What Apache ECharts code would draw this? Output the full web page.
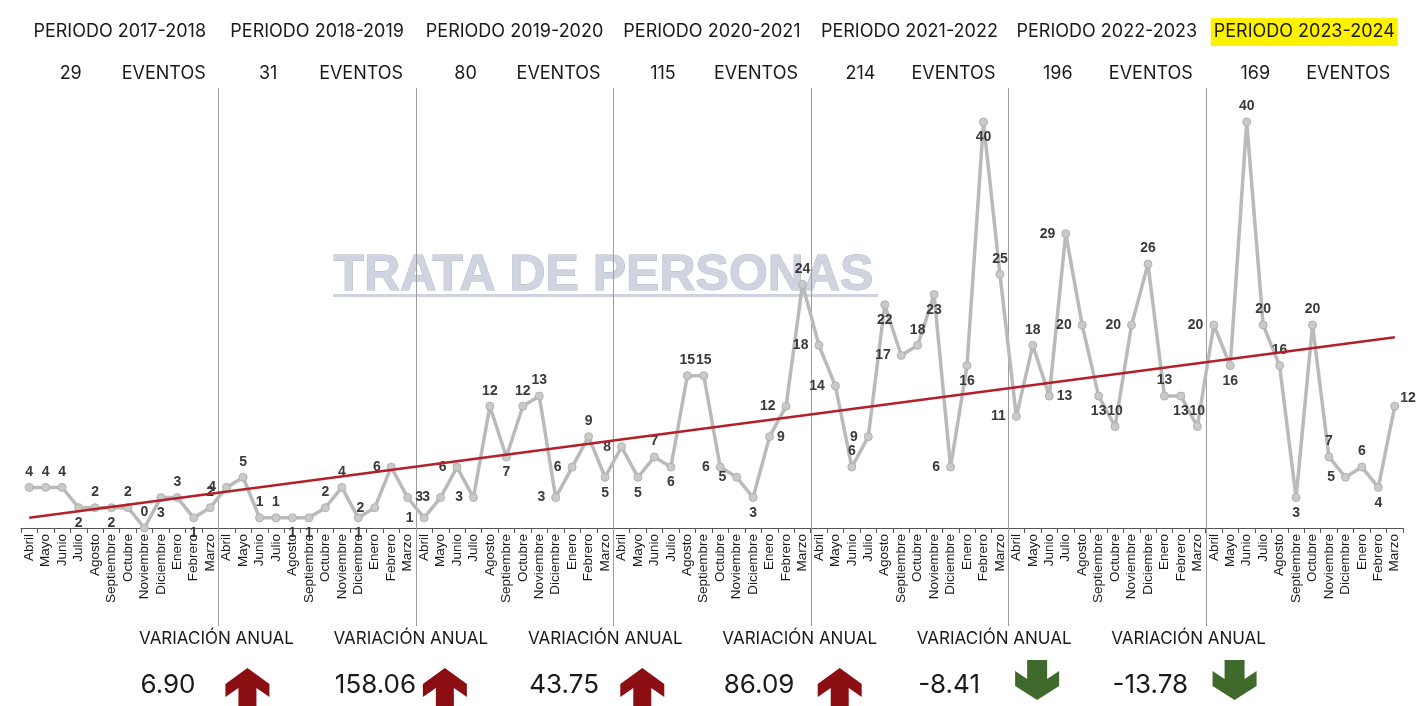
<!DOCTYPE html>
<html>
<head>
<meta charset="utf-8">
<script src="https://cdn.jsdelivr.net/npm/echarts@6/dist/echarts.min.js"></script>
<style>
html,body{margin:0;padding:0;background:#fff;}
#chart{width:1418px;height:706px;}
</style>
</head>
<body>
<div id="chart"></div>
<script>
const months = ['Abril','Mayo','Junio','Julio','Agosto','Septiembre','Octubre','Noviembre','Diciembre','Enero','Febrero','Marzo'];
const periods = ['PERIODO 2017-2018','PERIODO 2018-2019','PERIODO 2019-2020','PERIODO 2020-2021','PERIODO 2021-2022','PERIODO 2022-2023','PERIODO 2023-2024'];
const events = [29, 31, 80, 115, 214, 196, 169];
const variation = [6.90, 158.06, 43.75, 86.09, -8.41, -13.78];
const v2017 = [4,4,4,2,2,2,2,0,3,3,1,2];
const v2018 = [4,5,1,1,1,1,2,4,1,2,6,3];
const v2019 = [1,3,6,3,12,7,12,13,3,6,9,5];
const v2020 = [8,5,7,6,15,15,6,5,3,9,12,24];
const v2021 = [18,14,6,9,22,17,18,23,6,16,40,25];
const v2022 = [11,18,13,29,20,13,10,20,26,13,13,10];
const v2023 = [20,16,40,20,16,3,20,7,5,6,4,12];
const trendEnds = [1.0, 18.8];

// label placement (style only): t=top b=bottom l=left r=right
const labelPlace = [
 't','t','t','b','t','b','t','t','b','t','b','t',
 'l','t','t','t','b','b','t','t','b','l','l','r',
 'l','l','l','l','t','b','t','t','l','l','t','b',
 'l','b','t','b','t','t','l','l','b','r','l','t',
 'l','l','t','l','b','l','t','b','l','b','b','t',
 'l','t','r','l','l','b','t','l','t','t','b','t',
 'l','b','t','t','t','b','t','t','l','t','b','r'
];
const posMap = {t:'top', b:'bottom', l:'left', r:'right'};

const allValues = [].concat(v2017, v2018, v2019, v2020, v2021, v2022, v2023);
const categories = [];
for (let p = 0; p < periods.length; p++) months.forEach(m => categories.push(m));
const lastIdx = allValues.length - 1;

const seriesData = allValues.map((v, i) => ({
  value: v,
  label: {
    position: posMap[labelPlace[i]] || 'top',
    distance: labelPlace[i] === 'l' ? 6 : (labelPlace[i] === 'r' ? 3 : 4),
    offset: (i === lastIdx) ? [-2, -8] : [0, 0]
  }
}));

const chart = echarts.init(document.getElementById('chart'), null, {renderer: 'canvas'});
chart.setOption({
  animation: false,
  backgroundColor: '#ffffff',
  grid: { left: 21, right: 15, top: 122, bottom: 178 },
  xAxis: {
    type: 'category',
    data: categories,
    boundaryGap: true,
    axisLine: { lineStyle: { color: '#555', width: 1 } },
    axisTick: { show: true, interval: 0, length: 5, lineStyle: { color: '#555' } },
    axisLabel: {
      interval: 0, rotate: 90, color: '#1a1a1a', fontSize: 13.5,
      fontFamily: 'Liberation Sans, Arial, sans-serif', margin: 6
    }
  },
  yAxis: { type: 'value', min: 0, max: 40, show: false, splitLine: { show: false } },
  series: [
    {
      type: 'line',
      data: seriesData,
      z: 3,
      symbol: 'circle',
      symbolSize: 8,
      lineStyle: { color: '#bababa', width: 3.5 },
      itemStyle: { color: '#c8ccc6', borderColor: '#b0b0b0', borderWidth: 1 },
      label: {
        show: true, color: '#3a3a3a', fontWeight: 'bold', fontSize: 14,
        fontFamily: 'Liberation Sans, Arial, sans-serif'
      }
    },
    {
      type: 'line',
      data: [[0, trendEnds[0]], [lastIdx, trendEnds[1]]],
      z: 4,
      symbol: 'none',
      lineStyle: { color: '#b3202a', width: 2.5 },
      silent: true
    }
  ]
});

function px(i) { return chart.convertToPixel({ xAxisIndex: 0 }, i); }

const g = [];
const headFont = 'Inter, "Open Sans", sans-serif';

// watermark
g.push({
  type: 'text', z: 0, left: 333, top: 251,
  style: { text: 'TRATA DE PERSONAS', font: 'bold 50px "Liberation Sans", Arial, sans-serif',
    fill: '#d0d4e0', stroke: '#b4bacb', lineWidth: 1 }
});
g.push({ type: 'rect', z: 0, shape: { x: 333, y: 294, width: 545, height: 3 }, style: { fill: '#cfd3df' } });

// separators
for (let k = 1; k < periods.length; k++) {
  const x = Math.round((px(12 * k - 1) + px(12 * k)) / 2) + 0.5;
  g.push({ type: 'line', z: 1, shape: { x1: x, y1: 88, x2: x, y2: 626 }, style: { stroke: '#9c9c9c', lineWidth: 1 } });
}

// headers
for (let k = 0; k < periods.length; k++) {
  const c = (px(12 * k) + px(12 * k + 11)) / 2;
  const isLast = k === periods.length - 1;
  g.push({
    type: 'text', z: 5, x: c, y: 32,
    style: {
      text: periods[k], font: '400 18px ' + headFont, fill: '#1a1a1a',
      align: 'center', verticalAlign: 'middle',
      backgroundColor: isLast ? '#fff200' : null, padding: isLast ? [5, 3, 5, 3] : 0
    }
  });
  g.push({ type: 'text', z: 5, x: c - 49, y: 74,
    style: { text: String(events[k]), font: '400 18px ' + headFont, fill: '#1a1a1a', align: 'center', verticalAlign: 'middle' } });
  g.push({ type: 'text', z: 5, x: c + 44, y: 74,
    style: { text: 'EVENTOS', font: '400 18px ' + headFont, fill: '#1a1a1a', align: 'center', verticalAlign: 'middle' } });
}

// bottom variation blocks
for (let k = 1; k < periods.length; k++) {
  const sx = (px(12 * k - 1) + px(12 * k)) / 2;
  const vc = sx - 2 - 3 * (k - 1);
  const v = variation[k - 1];
  g.push({ type: 'text', z: 5, x: vc, y: 639,
    style: { text: 'VARIACIÓN ANUAL', font: '400 17px ' + headFont, fill: '#1a1a1a', align: 'center', verticalAlign: 'middle' } });
  g.push({ type: 'text', z: 5, x: vc - 76, y: 685,
    style: { text: v.toFixed(2), font: '400 26px ' + headFont, fill: '#1a1a1a', align: 'left', verticalAlign: 'middle' } });
  const c = sx + 29;
  let pts;
  if (v >= 0) {
    pts = [[c, 668], [c + 22, 684], [c + 22, 697], [c + 9, 688], [c + 9, 712], [c - 9, 712], [c - 9, 688], [c - 22, 697], [c - 22, 684]];
  } else {
    pts = [[c - 10, 660], [c + 10, 660], [c + 10, 679], [c + 22, 671], [c + 22, 686], [c, 700], [c - 22, 686], [c - 22, 671], [c - 10, 679]];
  }
  g.push({ type: 'polygon', z: 5, shape: { points: pts }, style: { fill: v >= 0 ? '#8a0e12' : '#3f6a2b' } });
}

chart.setOption({ graphic: g });
</script>
</body>
</html>
